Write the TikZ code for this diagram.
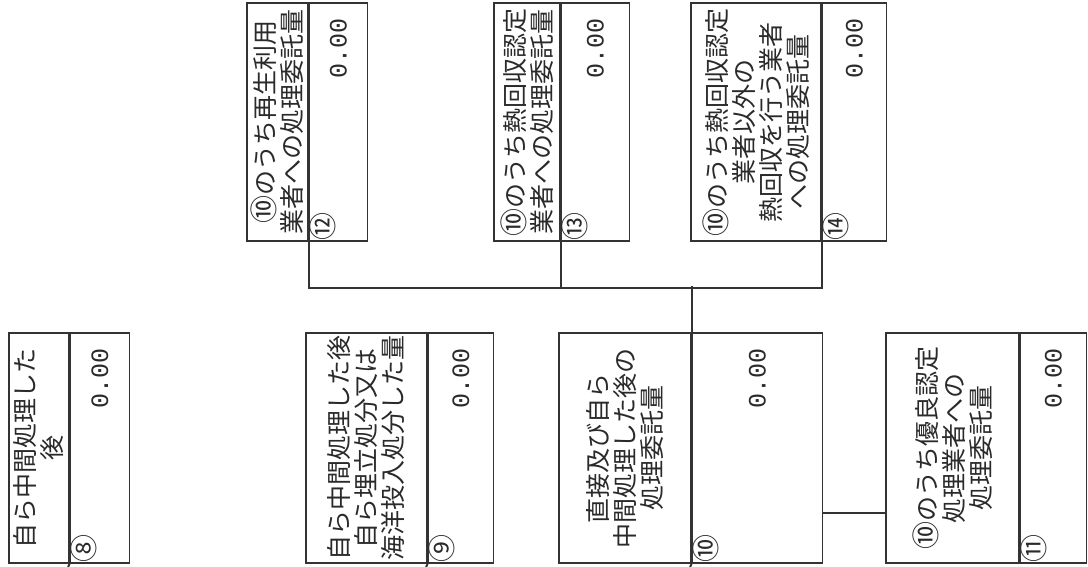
\documentclass[tikz,border=0pt]{standalone}
\usepackage{fontspec}
\setmainfont{Noto Sans CJK JP}
\setmonofont{Liberation Mono}
\usetikzlibrary{positioning, calc}

\definecolor{linegray}{HTML}{333333}
\definecolor{inkgray}{HTML}{2a2a2a}

\newcommand{\maru}[1]{{\fontsize{28}{27}\selectfont #1}}

\tikzset{
  lbl/.style={draw=linegray, line width=1.6pt, inner sep=0pt, anchor=north west,
    align=center, text=inkgray, font=\fontsize{25}{27}\selectfont},
  val/.style={draw=linegray, line width=1.6pt, inner xsep=15pt, inner ysep=0pt,
    anchor=north west, align=right, text=inkgray, font=\ttfamily\fontsize{25}{25}\selectfont},
  num/.style={inner sep=0pt, text=inkgray, font=\fontsize{28}{28}\selectfont},
  link/.style={draw=linegray, line width=2pt}
}

\begin{document}
\begin{tikzpicture}[x=1pt, y=1pt, rotate=90, transform shape]
	\useasboundingbox (0,0) rectangle (567,-1088);

	% left column
	\node[lbl, minimum width=230pt, minimum height=60pt] (t8) at (3,-8) {自ら中間処理した\\後};
	\node[val, minimum width=230pt, minimum height=59pt, text width=200pt] (v8) at (t8.south west) {0.00};
	\node[num] (n8) at ($(v8.north west)+(15,-14)$) {⑧};

	\node[lbl, minimum width=230pt, minimum height=121pt] (t9) at (3,-305) {自ら中間処理した後\\自ら埋立処分又は\\海洋投入処分した量};
	\node[val, minimum width=230pt, minimum height=65pt, text width=200pt] (v9) at (t9.south west) {0.00};
	\node[num] (n9) at ($(v9.north west)+(15,-14)$) {⑨};

	\node[lbl, minimum width=230pt, minimum height=132pt] (t10) at (3,-558) {直接及び自ら\\中間処理した後の\\処理委託量};
	\node[val, minimum width=230pt, minimum height=130pt, text width=200pt] (v10) at (t10.south west) {0.00};
	\node[num] (n10) at ($(v10.north west)+(15,-14)$) {⑩};

	\node[lbl, minimum width=230pt, minimum height=133pt] (t11) at (3,-885) {\maru{⑩}のうち優良認定\\処理業者への\\処理委託量};
	\node[val, minimum width=230pt, minimum height=66pt, text width=200pt] (v11) at (t11.south west) {0.00};
	\node[num] (n11) at ($(v11.north west)+(15,-14)$) {⑪};

	% right column
	\node[lbl, minimum width=238pt, minimum height=61pt] (t12) at (325,-246) {\maru{⑩}のうち再生利用\\業者への処理委託量};
	\node[val, minimum width=238pt, minimum height=58pt, text width=208pt] (v12) at (t12.south west) {0.00};
	\node[num] (n12) at ($(v12.north west)+(15,-14)$) {⑫};

	\node[lbl, minimum width=238pt, minimum height=66pt] (t13) at (325,-493) {\maru{⑩}のうち熱回収認定\\業者への処理委託量};
	\node[val, minimum width=238pt, minimum height=68pt, text width=208pt] (v13) at (t13.south west) {0.00};
	\node[num] (n13) at ($(v13.north west)+(15,-14)$) {⑬};

	\node[lbl, minimum width=238pt, minimum height=130pt] (t14) at (325,-690) {\maru{⑩}のうち熱回収認定\\業者以外の\\熱回収を行う業者\\への処理委託量};
	\node[val, minimum width=238pt, minimum height=64pt, text width=208pt] (v14) at (t14.south west) {0.00};
	\node[num] (n14) at ($(v14.north west)+(15,-14)$) {⑭};

	% connectors
	\draw[link] (t10.south east) -- ++(46,0);
	\draw[link] (t12.south west) -- ($(t12.south west)+(-46,0)$) -- ($(t14.south west)+(-46,0)$) -- (t14.south west);
	\draw[link] (t13.south west) -- ($(t13.south west)+(-46,0)$);
	\draw[link] ($(v10.south west)!.222!(v10.south east)$) -- ($(t11.north west)!.222!(t11.north east)$);

	\coordinate (e8) at (0,-68);
	\coordinate (e9) at (0,-426);
	\coordinate (e10) at (0,-690);
	\draw[link] (t8.south west) -- (e8);
	\draw[link] (t9.south west) -- (e9);
	\draw[link] (t10.south west) -- (e10);
\end{tikzpicture}
\end{document}
